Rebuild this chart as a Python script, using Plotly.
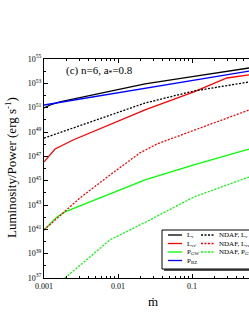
import plotly.graph_objects as go

# ---- data ----
mdot_Lnu = [0.001, 0.00121, 0.00164, 0.00571, 0.0232, 0.106, 0.589]
L_nu = [9.33e50, 1.66e51, 2.95e51, 1.48e52, 8.91e52, 3.72e53, 1.82e54]

mdot_Lnn = [0.001, 0.00141, 0.00247, 0.0232, 0.106, 0.297, 0.589]
L_nunu = [3.47e46, 3.98e47, 2.19e48, 6.46e50, 1.95e52, 2.75e53, 4.9e53]

mdot_Pgw = [0.001, 0.0015, 0.00192, 0.0232, 0.106, 0.589]
P_gw = [8.91e40, 1.05e42, 2.69e42, 1.15e45, 1.95e46, 3.98e47]

mdot_Pbz = [0.001, 0.0232, 0.106, 0.589]
P_bz = [1.66e51, 4.17e52, 1.91e53, 1.02e54]

mdot_nLnu = [0.001, 0.00571, 0.0232, 0.106, 0.589]
ndaf_L_nu = [3.16e48, 1.17e50, 2.4e51, 2.34e52, 1.29e53]

mdot_nLnn = [0.001, 0.00141, 0.00306, 0.0078, 0.0198, 0.0337, 0.106, 0.589]
ndaf_L_nunu = [8.91e40, 5.89e41, 3.8e43, 2.95e45, 1.91e47, 1.05e48, 1.38e49, 6.46e50]

mdot_nPgw = [0.00192, 0.0078, 0.027, 0.106, 0.589]
ndaf_P_gw = [1.0e37, 1.35e40, 5.89e41, 4.57e43, 2.0e45]

xtick_vals = [0.001, 0.01, 0.1, 1]
xtick_text = ["0.001", "0.01", "0.1", "1"]
ytick_exps = [37, 39, 41, 43, 45, 47, 49, 51, 53, 55]

series = [
    (mdot_Lnu, L_nu, "L<sub>ν</sub>", "black", "solid"),
    (mdot_Lnn, L_nunu, "L<sub>νν̄</sub>", "#ff0000", "solid"),
    (mdot_Pgw, P_gw, "P<sub>GW</sub>", "#00ff00", "solid"),
    (mdot_Pbz, P_bz, "P<sub>BZ</sub>", "#0000ff", "solid"),
    (mdot_nLnu, ndaf_L_nu, "NDAF, L<sub>ν</sub>", "black", "2px,1.5px"),
    (mdot_nLnn, ndaf_L_nunu, "NDAF, L<sub>νν̄</sub>", "#ff0000", "2px,1.5px"),
    (mdot_nPgw, ndaf_P_gw, "NDAF, P<sub>GW</sub>", "#00ff00", "2px,1.5px"),
]

FONT = "Liberation Serif"
fig = go.Figure()
for xs, ys, name, col, dash in series:
    fig.add_trace(go.Scatter(x=xs, y=ys, mode="lines", name=name,
                             line=dict(color=col, width=1.3, dash=dash),
                             showlegend=False, hoverinfo="skip"))

# ---- manual legend (two columns) ----
L, T, B = 44, 59, 278
W, H = 205, 219
def px(x): return (x - L) / W
def py(y): return (B - y) / H

shapes = []
shapes.append(dict(type="rect", xref="paper", yref="paper",
                   x0=px(164), x1=px(262), y0=py(271), y1=py(232),
                   fillcolor="#555555", line=dict(width=0), layer="above"))
shapes.append(dict(type="rect", xref="paper", yref="paper",
                   x0=px(162), x1=px(260), y0=py(269), y1=py(230),
                   fillcolor="white", line=dict(color="black", width=1), layer="above"))
rows = [235, 243.5, 252, 260.5]
annotations = []
col1 = series[:4]
col2 = series[4:]
for i, s in enumerate(col1):
    shapes.append(dict(type="line", xref="paper", yref="paper",
                       x0=px(168), x1=px(182), y0=py(rows[i]), y1=py(rows[i]),
                       line=dict(color=s[3], width=1.3, dash=s[4]), layer="above"))
    annotations.append(dict(text=s[2], xref="paper", yref="paper", x=px(184.5), y=py(rows[i]),
                            xanchor="left", yanchor="middle", showarrow=False,
                            font=dict(family=FONT, size=7, color="black")))
for i, s in enumerate(col2):
    shapes.append(dict(type="line", xref="paper", yref="paper",
                       x0=px(201), x1=px(215), y0=py(rows[i]), y1=py(rows[i]),
                       line=dict(color=s[3], width=1.3, dash=s[4]), layer="above"))
    annotations.append(dict(text=s[2], xref="paper", yref="paper", x=px(216.5), y=py(rows[i]),
                            xanchor="left", yanchor="middle", showarrow=False,
                            font=dict(family=FONT, size=7, color="black")))

annotations.append(dict(text="(c) n=6, a<sub>*</sub>=0.8", xref="paper", yref="paper",
                        x=px(64), y=py(71), xanchor="left", yanchor="middle", showarrow=False,
                        font=dict(family=FONT, size=11, color="black")))
annotations.append(dict(text="Luminosity/Power (erg s<sup>-1</sup>)", xref="paper", yref="paper",
                        x=px(11), y=py(168), xanchor="center", yanchor="middle", showarrow=False,
                        textangle=-90, font=dict(family=FONT, size=13, color="black")))
annotations.append(dict(text="ṁ", xref="paper", yref="paper",
                        x=px(153), y=py(301), xanchor="center", yanchor="middle", showarrow=False,
                        font=dict(family=FONT, size=13, color="black")))

xminor = [m * 10 ** e for e in range(-3, 0) for m in range(2, 10)]
yminor = [10.0 ** e for e in range(38, 55, 2)]

fig.update_layout(
    width=249, height=323,
    margin=dict(l=L, r=0, t=T, b=323 - B),
    paper_bgcolor="white", plot_bgcolor="white",
    font=dict(family=FONT, size=8, color="black"),
    shapes=shapes, annotations=annotations,
    xaxis=dict(type="log", range=[-3, -3 + W / 74.0],
               tickmode="array", tickvals=xtick_vals, ticktext=xtick_text,
               ticks="inside", ticklen=4, tickwidth=1, tickcolor="black",
               showline=True, linecolor="black", linewidth=1, mirror="ticks",
               showgrid=False, zeroline=False,
               tickfont=dict(family=FONT, size=8),
               minor=dict(tickmode="array", tickvals=xminor, ticks="inside",
                          ticklen=2, tickcolor="black", showgrid=False)),
    yaxis=dict(type="log", range=[37, 55],
               tickmode="array", tickvals=[10.0 ** e for e in ytick_exps],
               ticktext=["10<sup>%d</sup>" % e for e in ytick_exps],
               ticks="inside", ticklen=4, tickwidth=1, tickcolor="black",
               showline=True, linecolor="black", linewidth=1, mirror=False,
               showgrid=False, zeroline=False,
               tickfont=dict(family=FONT, size=8),
               minor=dict(tickmode="array", tickvals=yminor, ticks="inside",
                          ticklen=2, tickcolor="black", showgrid=False)),
)
fig.write_html("out.html", config={"displayModeBar": False}, post_script=(
    "document.body.style.margin='0';"
    "document.body.style.overflow='hidden';"
    "document.documentElement.style.overflow='hidden';"))
